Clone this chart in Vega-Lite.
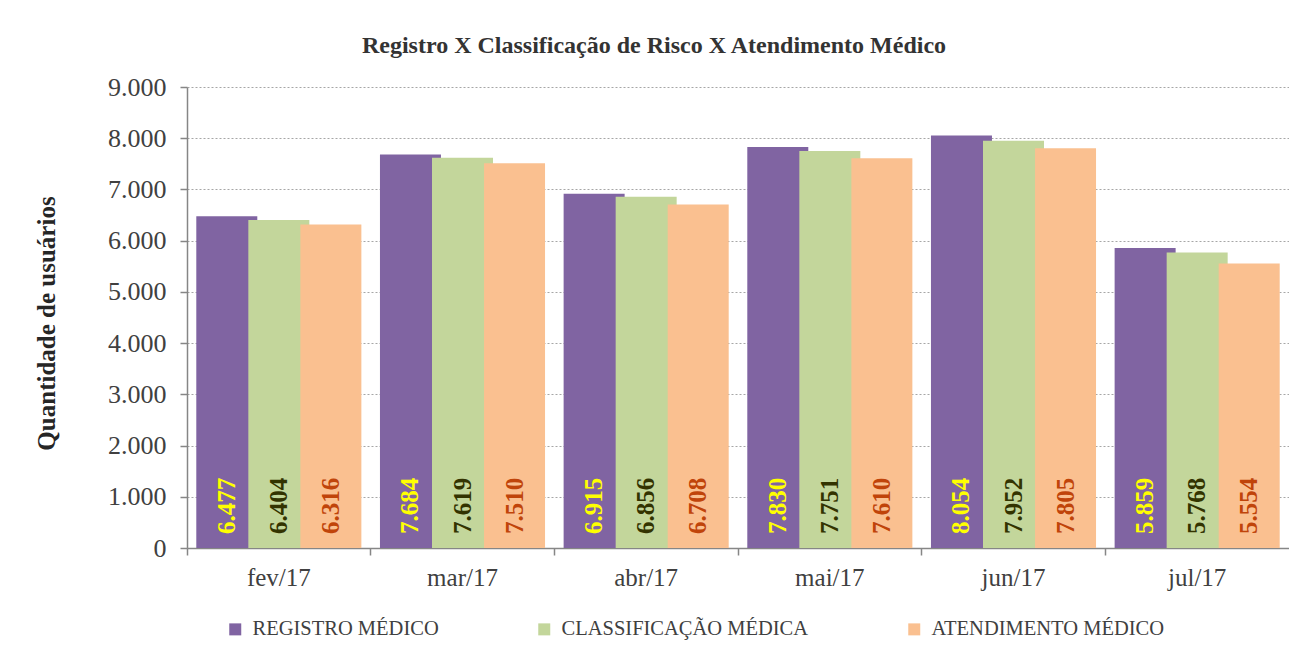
{
  "$schema": "https://vega.github.io/schema/vega-lite/v6.json",
  "autosize": "none",
  "width": 1102,
  "height": 461,
  "padding": {"left": 187, "top": 87, "right": 0, "bottom": 111},
  "background": "#ffffff",
  "config": {
    "locale": {"number": {"decimal": ",", "thousands": ".", "grouping": [3], "currency": ["R$", ""]}},
    "view": {"stroke": null},
    "font": "Liberation Serif"
  },
  "title": {
    "text": "Registro X Classificação de Risco X Atendimento  Médico",
    "font": "Liberation Serif",
    "fontSize": 24,
    "fontWeight": "bold",
    "color": "#333333",
    "anchor": "middle",
    "frame": "group",
    "dx": -84,
    "dy": 35,
    "baseline": "alphabetic",
    "offset": 32
  },
  "data": {
    "values": [
      {"mes": "fev/17", "serie": "REGISTRO MÉDICO", "valor": 6477},
      {"mes": "fev/17", "serie": "CLASSIFICAÇÃO MÉDICA", "valor": 6404},
      {"mes": "fev/17", "serie": "ATENDIMENTO MÉDICO", "valor": 6316},
      {"mes": "mar/17", "serie": "REGISTRO MÉDICO", "valor": 7684},
      {"mes": "mar/17", "serie": "CLASSIFICAÇÃO MÉDICA", "valor": 7619},
      {"mes": "mar/17", "serie": "ATENDIMENTO MÉDICO", "valor": 7510},
      {"mes": "abr/17", "serie": "REGISTRO MÉDICO", "valor": 6915},
      {"mes": "abr/17", "serie": "CLASSIFICAÇÃO MÉDICA", "valor": 6856},
      {"mes": "abr/17", "serie": "ATENDIMENTO MÉDICO", "valor": 6708},
      {"mes": "mai/17", "serie": "REGISTRO MÉDICO", "valor": 7830},
      {"mes": "mai/17", "serie": "CLASSIFICAÇÃO MÉDICA", "valor": 7751},
      {"mes": "mai/17", "serie": "ATENDIMENTO MÉDICO", "valor": 7610},
      {"mes": "jun/17", "serie": "REGISTRO MÉDICO", "valor": 8054},
      {"mes": "jun/17", "serie": "CLASSIFICAÇÃO MÉDICA", "valor": 7952},
      {"mes": "jun/17", "serie": "ATENDIMENTO MÉDICO", "valor": 7805},
      {"mes": "jul/17", "serie": "REGISTRO MÉDICO", "valor": 5859},
      {"mes": "jul/17", "serie": "CLASSIFICAÇÃO MÉDICA", "valor": 5768},
      {"mes": "jul/17", "serie": "ATENDIMENTO MÉDICO", "valor": 5554}
    ]
  },
  "encoding": {
    "x": {
      "field": "mes",
      "type": "nominal",
      "sort": ["fev/17", "mar/17", "abr/17", "mai/17", "jun/17", "jul/17"],
      "scale": {"paddingInner": 0.15, "paddingOuter": 0.075},
      "axis": {
        "title": null,
        "labelAngle": 0,
        "labelFont": "Liberation Serif",
        "labelFontSize": 25,
        "labelColor": "#404040",
        "labelPadding": 10,
        "domainColor": "#868686",
        "domainWidth": 1.5,
        "tickColor": "#868686",
        "tickWidth": 1.5,
        "tickSize": 7,
        "bandPosition": -0.0882
      }
    },
    "xOffset": {
      "field": "serie",
      "type": "nominal",
      "sort": ["REGISTRO MÉDICO", "CLASSIFICAÇÃO MÉDICA", "ATENDIMENTO MÉDICO"],
      "scale": {"paddingInner": 0, "paddingOuter": 0}
    }
  },
  "layer": [
    {
      "mark": {"type": "bar", "width": 61},
      "encoding": {
        "y": {
          "field": "valor",
          "type": "quantitative",
          "scale": {"domain": [0, 9000], "nice": false},
          "axis": {
            "values": [0, 1000, 2000, 3000, 4000, 5000, 6000, 7000, 8000, 9000],
            "format": ",d",
            "title": "Quantidade  de usuários",
            "titleFont": "Liberation Serif",
            "titleFontSize": 25,
            "titleFontWeight": "bold",
            "titleColor": "#262626",
            "titleAngle": 270,
            "titleAlign": "center",
            "titleBaseline": "middle",
            "titleX": -141,
            "titleY": 236,
            "labelFont": "Liberation Serif",
            "labelFontSize": 26,
            "labelColor": "#404040",
            "labelPadding": 14,
            "domainColor": "#868686",
            "domainWidth": 1.5,
            "tickColor": "#868686",
            "tickWidth": 1.5,
            "tickSize": 7,
            "grid": true,
            "gridColor": "#a6a6a6",
            "gridDash": [2, 2],
            "gridWidth": 1
          }
        },
        "color": {
          "field": "serie",
          "type": "nominal",
          "sort": ["REGISTRO MÉDICO", "CLASSIFICAÇÃO MÉDICA", "ATENDIMENTO MÉDICO"],
          "scale": {
            "domain": ["REGISTRO MÉDICO", "CLASSIFICAÇÃO MÉDICA", "ATENDIMENTO MÉDICO"],
            "range": ["#8064A2", "#C3D69B", "#FAC090"]
          },
          "legend": {
            "title": null,
            "orient": "none",
            "direction": "horizontal",
            "legendX": 38,
            "legendY": 532,
            "padding": 0,
            "symbolType": "square",
            "symbolSize": 144,
            "symbolStrokeWidth": 0,
            "labelFont": "Liberation Serif",
            "labelFontSize": 20.5,
            "labelColor": "#404040",
            "labelOffset": 7,
            "columnPadding": 95,
            "labelLimit": 400
          }
        }
      }
    },
    {
      "mark": {
        "type": "text",
        "angle": 270,
        "align": "left",
        "baseline": "middle",
        "dx": 14,
        "font": "Liberation Serif",
        "fontSize": 25,
        "fontWeight": "bold"
      },
      "encoding": {
        "y": {"datum": 0, "type": "quantitative"},
        "text": {"field": "valor", "type": "quantitative", "format": ",d"},
        "color": {
          "field": "serie",
          "type": "nominal",
          "scale": {
            "domain": ["REGISTRO MÉDICO", "CLASSIFICAÇÃO MÉDICA", "ATENDIMENTO MÉDICO"],
            "range": ["#FFFF00", "#333300", "#C0440A"]
          },
          "legend": null
        }
      }
    }
  ],
  "resolve": {"scale": {"color": "independent"}}
}
